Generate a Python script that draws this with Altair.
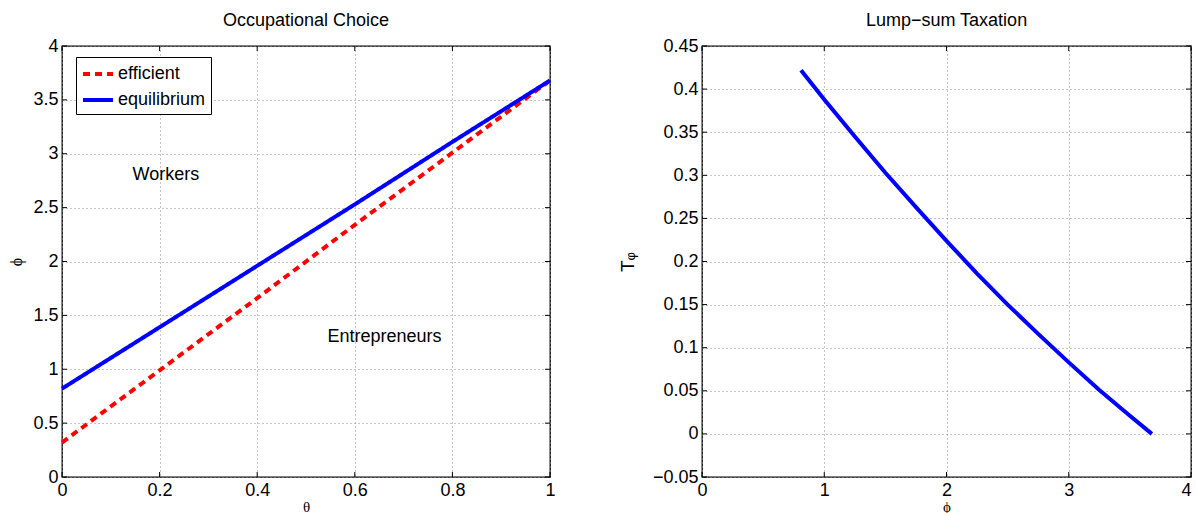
import altair as alt
import pandas as pd

# ---------------- data ----------------
theta_pts = [0.0, 0.2, 0.4, 0.6, 0.8, 1.0]
phi_efficient = [0.32, 0.99, 1.66, 2.34, 3.01, 3.68]
phi_equilibrium = [0.82, 1.39, 1.96, 2.53, 3.11, 3.68]

tax_phi = [0.81, 1.0, 1.25, 1.5, 1.75, 2.0, 2.25, 2.5, 2.75, 3.0, 3.25, 3.5, 3.68]
tax_T = [0.422, 0.388, 0.345, 0.303, 0.263, 0.224, 0.186, 0.150, 0.116, 0.083, 0.051, 0.021, 0.0]

series_names = ["efficient", "equilibrium"]
series_colors = ["#ff0000", "#0000ff"]
series_dash = [[7, 5], [1, 0]]

left_x_ticks = [0, 0.2, 0.4, 0.6, 0.8, 1]
left_y_ticks = [0, 0.5, 1, 1.5, 2, 2.5, 3, 3.5, 4]
right_x_ticks = [0, 1, 2, 3, 4]
right_y_ticks = [-0.05, 0, 0.05, 0.1, 0.15, 0.2, 0.25, 0.3, 0.35, 0.4, 0.45]

region_labels = ["Workers", "Entrepreneurs"]
region_theta = [0.213, 0.661]
region_phi = [2.80, 1.30]

# ---------------- tables ----------------
occ_df = pd.DataFrame({
    "theta": theta_pts * 2,
    "phi": phi_efficient + phi_equilibrium,
    "series": [series_names[0]] * len(theta_pts) + [series_names[1]] * len(theta_pts),
    "order": list(range(len(theta_pts))) * 2,
})
tax_df = pd.DataFrame({"phi": tax_phi, "T": tax_T})
region_df = pd.DataFrame({"label": region_labels, "theta": region_theta, "phi": region_phi})

W, H = 488, 431
W2 = 489
SANS = "Liberation Sans"
SERIF = "Liberation Serif"
TICK = 5

axis_common = dict(
    grid=True, gridDash=[1, 3], gridColor="#8a8a8a", gridWidth=1,
    ticks=False, domain=False, labelFont=SANS, labelFontSize=18,
    labelColor="black", labelFlush=False,
    titleFont=SERIF, titleFontSize=15, titleFontWeight="normal", titleColor="black",
)

xs1 = alt.Scale(domain=[0, 1], nice=False, zero=False)
ys1 = alt.Scale(domain=[0, 4], nice=False, zero=False)
xa1 = alt.Axis(values=left_x_ticks, format="~g", title="θ", titleY=29.5, titleBaseline="middle",
               labelPadding=4, **axis_common)
ya1_common = dict(axis_common)
ya1_common.update(titleFontSize=16)
ya1 = alt.Axis(values=left_y_ticks, format="~g", title="ϕ", titleX=-46, titleBaseline="middle",
               labelPadding=4, **ya1_common)

xs2 = alt.Scale(domain=[0, 4], nice=False, zero=False)
ys2 = alt.Scale(domain=[-0.05, 0.45], nice=False, zero=False)
xa2 = alt.Axis(values=right_x_ticks, format="~g", title="ϕ", titleY=29.5, titleBaseline="middle",
               labelPadding=4, labelAlign=alt.expr("datum.value == 4 ? 'right' : 'center'"), **axis_common)
ya2_common = dict(axis_common)
ya2_common.update(titleFont=SANS, titleFontSize=19)
ya2 = alt.Axis(values=right_y_ticks, format="~g", title="Tᵩ", titleX=-75, titleBaseline="middle",
               labelPadding=4, **ya2_common)


def inward_ticks(xticks, yticks, xscale, yscale, xaxis, yaxis, w, h):
    xt = pd.DataFrame({"x": xticks})
    yt = pd.DataFrame({"y": yticks})
    base_x = alt.Chart(xt).mark_rule(color="black", strokeWidth=1)
    base_y = alt.Chart(yt).mark_rule(color="black", strokeWidth=1)
    bx = base_x.encode(x=alt.X("x:Q", scale=xscale, axis=xaxis), y=alt.value(h), y2=alt.value(h - TICK))
    tx = base_x.encode(x=alt.X("x:Q", scale=xscale, axis=xaxis), y=alt.value(0), y2=alt.value(TICK))
    ly = base_y.encode(y=alt.Y("y:Q", scale=yscale, axis=yaxis), x=alt.value(0), x2=alt.value(TICK))
    ry = base_y.encode(y=alt.Y("y:Q", scale=yscale, axis=yaxis), x=alt.value(w), x2=alt.value(w - TICK))
    return [bx, tx, ly, ry]


legend = alt.Legend(
    title=None, orient="none", legendX=14, legendY=11, direction="vertical",
    strokeColor="black", fillColor="white", padding=5, cornerRadius=0,
    labelFont=SANS, labelFontSize=18, labelColor="black", labelLimit=300,
    symbolType="M-1,0H2", symbolSize=400, symbolStrokeWidth=4, rowPadding=5, labelOffset=13,
)

occ_lines = alt.Chart(occ_df).mark_line(strokeWidth=4).encode(
    x=alt.X("theta:Q", scale=xs1, axis=xa1),
    y=alt.Y("phi:Q", scale=ys1, axis=ya1),
    color=alt.Color("series:N", scale=alt.Scale(domain=series_names, range=series_colors), legend=legend),
    strokeDash=alt.StrokeDash("series:N", scale=alt.Scale(domain=series_names, range=series_dash), legend=legend),
    order="order:Q",
)

regions = alt.Chart(region_df).mark_text(font=SANS, fontSize=18, color="black").encode(
    x=alt.X("theta:Q", scale=xs1, axis=xa1),
    y=alt.Y("phi:Q", scale=ys1, axis=ya1),
    text="label:N",
)

left = alt.layer(
    occ_lines, regions, *inward_ticks(left_x_ticks, left_y_ticks, xs1, ys1, xa1, ya1, W, H)
).properties(
    width=W, height=H,
    title=alt.TitleParams("Occupational Choice", font=SANS, fontSize=18, fontWeight="normal",
                          color="black", offset=7, anchor="middle"),
)

tax_line = alt.Chart(tax_df).mark_line(strokeWidth=4, color="#0000ff").encode(
    x=alt.X("phi:Q", scale=xs2, axis=xa2),
    y=alt.Y("T:Q", scale=ys2, axis=ya2),
)

right = alt.layer(
    tax_line, *inward_ticks(right_x_ticks, right_y_ticks, xs2, ys2, xa2, ya2, W2, H)
).properties(
    width=W2, height=H,
    title=alt.TitleParams("Lump−sum Taxation", font=SANS, fontSize=18, fontWeight="normal",
                          color="black", offset=7, anchor="middle"),
)

chart = alt.hconcat(left, right, spacing=152, bounds="flush").properties(
    padding={"left": 7, "top": 11, "right": 0, "bottom": 0},
    background="white",
).configure_view(
    stroke="black", strokeWidth=1.3,
).resolve_scale(color="independent", strokeDash="independent")

chart.save("out.html", embed_options={"renderer": "svg", "actions": False})
